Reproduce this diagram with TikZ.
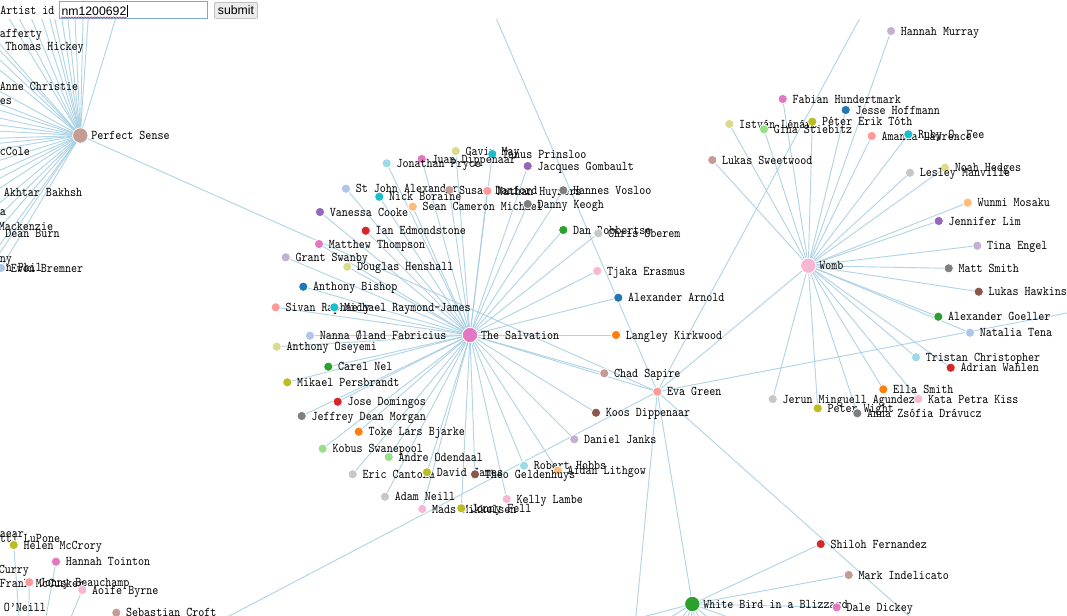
\documentclass[tikz,border=0pt]{standalone}
\usepackage{fontspec}
\newfontfamily\lblfont[FakeStretch=0.86]{lmmono10-regular.otf}
\newfontfamily\formfont{Liberation Sans}
\usetikzlibrary{backgrounds,decorations.pathmorphing}

\definecolor{cblue}{HTML}{1F77B4}
\definecolor{cblueL}{HTML}{AEC7E8}
\definecolor{corange}{HTML}{FF7F0E}
\definecolor{corangeL}{HTML}{FFBB78}
\definecolor{cgreen}{HTML}{2CA02C}
\definecolor{cgreenL}{HTML}{98DF8A}
\definecolor{cred}{HTML}{D62728}
\definecolor{credL}{HTML}{FF9896}
\definecolor{cpurple}{HTML}{9467BD}
\definecolor{cpurpleL}{HTML}{C5B0D5}
\definecolor{cbrown}{HTML}{8C564B}
\definecolor{cbrownL}{HTML}{C49C94}
\definecolor{cpink}{HTML}{E377C2}
\definecolor{cpinkL}{HTML}{F7B6D2}
\definecolor{cgrey}{HTML}{7F7F7F}
\definecolor{cgreyL}{HTML}{C7C7C7}
\definecolor{colive}{HTML}{BCBD22}
\definecolor{coliveL}{HTML}{DBDB8D}
\definecolor{ccyan}{HTML}{17BECF}
\definecolor{ccyanL}{HTML}{9EDAE5}
\definecolor{linkblue}{HTML}{9ECAE1}
\definecolor{boxblue}{HTML}{7EA6E0}

\begin{document}
\begin{tikzpicture}[x=0.75pt, y=-0.75pt, label distance=3.7pt,
  actor/.style = {circle, draw=white, line width=0.6pt, inner sep=0pt, outer sep=0pt, minimum size=7pt},
  film/.style = {actor, minimum size=11.5pt},
  lbl/.style = {font=\lblfont, inner sep=0pt, anchor=base west, yshift=-3pt},
  flbl/.style = {lbl, xshift=-1.4pt},
  link/.style = {draw=linkblue, line width=0.7pt, draw opacity=0.8},
  idbox/.style = {draw=boxblue, line width=0.75pt, minimum width=111pt, minimum height=12.5pt, inner sep=0pt},
  submitbtn/.style = {draw=gray!70, fill=gray!15, rounded corners=1.5pt, minimum width=32.5pt, minimum height=12pt, inner sep=0pt, font=\formfont\fontsize{9.2}{11}\selectfont}]
\useasboundingbox (0,0) rectangle (1067,615);
\clip (0,0) rectangle (1067,615);

% form on top
\node[lbl] (artistid) at (0,10) {Artist id};
\node[idbox] (idbox) at (133.8,10) {};
\node[anchor=base west, inner sep=0pt, font=\formfont\fontsize{9.2}{11}\selectfont] (idtext) at ([xshift=1.5pt, yshift=-4pt]idbox.west) {nm1200692};
\draw[line width=0.5pt] ([xshift=0.8pt, yshift=-1pt]idtext.base east) -- ++(0,-12);
\draw[red, line width=0.4pt, decorate, decoration={snake, amplitude=0.45pt, segment length=2.4pt}] ([yshift=-1.6pt]idtext.base west) -- ([yshift=-1.6pt]idtext.base east);
\node[submitbtn] (submit) at (236,10.3) {submit};

% films
\node[film, fill=cbrownL, label={[flbl]right:Perfect Sense}] (ps) at (80.3,135.5) {};
\node[film, fill=cpink, label={[flbl]right:The Salvation}] (salv) at (470,335) {};
\node[film, fill=cpinkL, label={[flbl]right:Womb}] (womb) at (808.3,265.7) {};
\node[film, fill=cgreen, label={[flbl]right:White Bird in a Blizzard}] (wbird) at (692.3,604) {};
\node[actor, fill=credL, label={[lbl]right:Eva Green}] (eva) at (657.3,391.7) {};

% The Salvation
\node[actor, fill=coliveL, label={[lbl]right:Gavin May}] (gavin) at (455.7,151) {};
\node[actor, fill=ccyan, label={[lbl]right:Tanus Prinsloo}] (tanus) at (492.3,154) {};
\node[actor, fill=cpink, label={[lbl]right:Juan Dippenaar}] (juan) at (421.7,159) {};
\node[actor, fill=ccyanL, label={[lbl]right:Jonathan Pryce}] (pryce) at (386.7,163.3) {};
\node[actor, fill=cpurple, label={[lbl]right:Jacques Gombault}] (gombault) at (527.7,166) {};
\node[actor, fill=cblueL, label={[lbl]right:St John Alexander}] (stjohn) at (346,188.7) {};
\node[actor, fill=cbrownL, label={[lbl]right:Susan Danford}] (danford) at (449.3,190) {};
\node[actor, fill=credL, label={[lbl]right:Nathan Huyzers}] (huyzers) at (487.3,191) {};
\node[actor, fill=cgrey, label={[lbl]right:Hannes Vosloo}] (vosloo) at (563.3,190.3) {};
\node[actor, fill=ccyan, label={[lbl]right:Nick Boraine}] (boraine) at (379.3,196.7) {};
\node[actor, fill=corangeL, label={[lbl]right:Sean Cameron Michael}] (seanm) at (412.7,206.7) {};
\node[actor, fill=cgrey, label={[lbl]right:Danny Keogh}] (keogh) at (527.7,204) {};
\node[actor, fill=cpurple, label={[lbl]right:Vanessa Cooke}] (cooke) at (320,212) {};
\node[actor, fill=cred, label={[lbl]right:Ian Edmondstone}] (edmond) at (365.7,230.7) {};
\node[actor, fill=cgreen, label={[lbl]right:Dan Robbertse}] (robbertse) at (563.3,230) {};
\node[actor, fill=cgreyL, label={[lbl]right:Chris Oberem}] (oberem) at (598.3,233.3) {};
\node[actor, fill=cpink, label={[lbl]right:Matthew Thompson}] (thompson) at (319,244) {};
\node[actor, fill=cpurpleL, label={[lbl]right:Grant Swanby}] (swanby) at (285.7,257.3) {};
\node[actor, fill=coliveL, label={[lbl]right:Douglas Henshall}] (henshall) at (347.3,266.7) {};
\node[actor, fill=cblue, label={[lbl]right:Anthony Bishop}] (bishop) at (303.3,286.7) {};
\node[actor, fill=cpinkL, label={[lbl]right:Tjaka Erasmus}] (erasmus) at (597.3,271) {};
\node[actor, fill=cblue, label={[lbl]right:Alexander Arnold}] (arnold) at (618.3,297.7) {};
\node[actor, fill=credL, label={[lbl]right:Sivan Raphaely}] (sivan) at (275.7,307.3) {};
\node[actor, fill=ccyan, label={[lbl]right:Michael Raymond-James}] (raymond) at (334.3,307.3) {};
\node[actor, fill=cblueL, label={[lbl]right:Nanna Øland Fabricius}] (nanna) at (310,335.7) {};
\node[actor, fill=corange, label={[lbl]right:Langley Kirkwood}] (kirkwood) at (616,335) {};
\node[actor, fill=coliveL, label={[lbl]right:Anthony Oseyemi}] (oseyemi) at (276.7,346.7) {};
\node[actor, fill=cgreen, label={[lbl]right:Carel Nel}] (nel) at (328.3,366.7) {};
\node[actor, fill=colive, label={[lbl]right:Mikael Persbrandt}] (persbrandt) at (287.3,382.3) {};
\node[actor, fill=cbrownL, label={[lbl]right:Chad Sapire}] (sapire) at (604.3,373.3) {};
\node[actor, fill=cred, label={[lbl]right:Jose Domingos}] (domingos) at (337.7,401.7) {};
\node[actor, fill=cgrey, label={[lbl]right:Jeffrey Dean Morgan}] (morgan) at (301.7,416) {};
\node[actor, fill=cbrown, label={[lbl]right:Koos Dippenaar}] (koos) at (596,412.7) {};
\node[actor, fill=corange, label={[lbl]right:Toke Lars Bjarke}] (bjarke) at (358.7,431.7) {};
\node[actor, fill=cpurpleL, label={[lbl]right:Daniel Janks}] (janks) at (574.3,439.3) {};
\node[actor, fill=cgreenL, label={[lbl]right:Kobus Swanepool}] (swanepool) at (322.7,448.7) {};
\node[actor, fill=cgreenL, label={[lbl]right:Andre Odendaal}] (odendaal) at (388.7,457) {};
\node[actor, fill=ccyanL, label={[lbl]right:Robert Hobbs}] (hobbs) at (524,465.7) {};
\node[actor, fill=corangeL, label={[lbl]right:Aidan Lithgow}] (lithgow) at (557.7,470.7) {};
\node[actor, fill=cgreyL, label={[lbl]right:Eric Cantona}] (cantona) at (352.7,474.3) {};
\node[actor, fill=colive, label={[lbl]right:David James}] (davidj) at (427,472.3) {};
\node[actor, fill=cbrown, label={[lbl]right:Theo Geldenhuys}] (theo) at (475,474.3) {};
\node[actor, fill=cgreyL, label={[lbl]right:Adam Neill}] (neill) at (385,496.7) {};
\node[actor, fill=cpinkL, label={[lbl]right:Kelly Lambe}] (lambe) at (506.7,499) {};
\node[actor, fill=cpinkL, label={[lbl]right:Mads Mikkelsen}] (mads) at (422.3,509) {};
\node[actor, fill=colive, label={[lbl]right:Jonny Fell}] (fell) at (461.3,508.3) {};

% Womb
\node[actor, fill=cpurpleL, label={[lbl]right:Hannah Murray}] (murray) at (891,31) {};
\node[actor, fill=cpink, label={[lbl]right:Fabian Hundertmark}] (fabian) at (782.7,99) {};
\node[actor, fill=cblue, label={[lbl]right:Jesse Hoffmann}] (hoffmann) at (845.7,110) {};
\node[actor, fill=coliveL, label={[lbl]right:István Lénárt}] (lenart) at (729.3,124) {};
\node[actor, fill=colive, label={[lbl]right:Péter Erik Tóth}] (toth) at (812.3,121.7) {};
\node[actor, fill=cgreenL, label={[lbl]right:Gina Stiebitz}] (stiebitz) at (764,129.3) {};
\node[actor, fill=credL, label={[lbl]right:Amanda Lawrence}] (lawrence) at (871.7,136) {};
\node[actor, fill=ccyan, label={[lbl]right:Ruby O. Fee}] (fee) at (908.3,134.3) {};
\node[actor, fill=cbrownL, label={[lbl]right:Lukas Sweetwood}] (sweetwood) at (712.3,160) {};
\node[actor, fill=coliveL, label={[lbl]right:Noah Hedges}] (hedges) at (945,167.7) {};
\node[actor, fill=cgreyL, label={[lbl]right:Lesley Manville}] (manville) at (910,172.7) {};
\node[actor, fill=corangeL, label={[lbl]right:Wunmi Mosaku}] (mosaku) at (967.7,202.7) {};
\node[actor, fill=cpurple, label={[lbl]right:Jennifer Lim}] (lim) at (938.7,221) {};
\node[actor, fill=cpurpleL, label={[lbl]right:Tina Engel}] (engel) at (977.3,245.7) {};
\node[actor, fill=cgrey, label={[lbl]right:Matt Smith}] (msmith) at (948.7,268.3) {};
\node[actor, fill=cbrown, label={[lbl]right:Lukas Hawkins}] (hawkins) at (978.7,291.7) {};
\node[actor, fill=cgreen, label={[lbl]right:Alexander Goeller}] (goeller) at (938.3,316.7) {};
\node[actor, fill=cblueL, label={[lbl]right:Natalia Tena}] (tena) at (970,332.7) {};
\node[actor, fill=ccyanL, label={[lbl]right:Tristan Christopher}] (tristan) at (916,357.3) {};
\node[actor, fill=cred, label={[lbl]right:Adrian Wahlen}] (wahlen) at (950.7,367.7) {};
\node[actor, fill=corange, label={[lbl]right:Ella Smith}] (esmith) at (883.3,389.3) {};
\node[actor, fill=cpinkL, label={[lbl]right:Kata Petra Kiss}] (kiss) at (918.3,399) {};
\node[actor, fill=cgreyL, label={[lbl]right:Jerun Minguell Agundez}] (agundez) at (772.7,399) {};
\node[actor, fill=colive, label={[lbl]right:Peter Wight}] (wight) at (817.7,408.3) {};
\node[actor, fill=cgrey, label={[lbl]right:Anna Zsófia Drávucz}] (dravucz) at (857.3,413.3) {};

% White Bird in a Blizzard
\node[actor, fill=cred, label={[lbl]right:Shiloh Fernandez}] (shiloh) at (820.7,544) {};
\node[actor, fill=cbrownL, label={[lbl]right:Mark Indelicato}] (indelicato) at (848.7,575) {};
\node[actor, fill=cpink, label={[lbl]right:Dale Dickey}] (dickey) at (836.7,607.3) {};

% bottom left
\node[actor, fill=cgrey, label={[lbl]right:aear}] (aear) at (-10,533) {};
\node[actor, fill=cgrey, label={[lbl]right:tti LuPone}] (lupone) at (-10,538.5) {};
\node[actor, fill=colive, label={[lbl]right:Helen McCrory}] (helen) at (13.7,545) {};
\node[actor, fill=cpink, label={[lbl]right:Hannah Tointon}] (tointon) at (56,561.7) {};
\node[actor, fill=cgrey, label={[lbl]right:Curry}] (curry) at (-11,569) {};
\node[actor, fill=cgrey, label={[lbl]right:Frank McCusker}] (mccusker) at (-10,583) {};
\node[actor, fill=credL, label={[lbl]right:Jonny Beauchamp}] (jonny) at (29.3,582.3) {};
\node[actor, fill=cpinkL, label={[lbl]right:Aoife Byrne}] (aoife) at (82.3,590) {};
\node[actor, fill=cgrey, label={[lbl]right:O’Neill}] (oneill) at (-6,607) {};
\node[actor, fill=cbrownL, label={[lbl]right:Sebastian Croft}] (croft) at (116.3,612.7) {};

% Perfect Sense, cut at the left edge
\node[actor, fill=cgrey, label={[lbl]right:afferty}] (lafferty) at (-10,33) {};
\node[actor, fill=cgrey, label={[lbl]right:Thomas Hickey}] (hickey) at (-4.5,46) {};
\node[actor, fill=cgrey, label={[lbl]right:Anne Christie}] (christie) at (-10,86) {};
\node[actor, fill=cgrey, label={[lbl]right:es}] (pses) at (-10,100) {};
\node[actor, fill=cgrey, label={[lbl]right:cCole}] (mccole) at (-10,151) {};
\node[actor, fill=cgrey, label={[lbl]right:Akhtar Bakhsh}] (bakhsh) at (-6,192) {};
\node[actor, fill=cgrey, label={[lbl]right:a}] (psa) at (-10,211) {};
\node[actor, fill=cgrey, label={[lbl]right:Mackenzie}] (mackenzie) at (-11,226) {};
\node[actor, fill=cgrey, label={[lbl]right:Dean Burn}] (burn) at (-4.5,233) {};
\node[actor, fill=cgrey, label={[lbl]right:ny}] (psny) at (-10,258) {};
\node[actor, fill=cgrey, label={[lbl]right:en Phil}] (phil) at (-10,267) {};
\node[actor, fill=cblueL, label={[lbl]right:Ewen Bremner}] (bremner) at (1,268) {};

% ends off the picture
\foreach \x [count=\i] in {-14.4,-0.9,15.3,28.8,39.6,46.3,55.7,63.8,73.3,84,90.8,127.2}
  \coordinate (pstop\i) at (\x,-20);
\foreach \y [count=\i] in {22.6,37.6,97.5,109.5,120,129,139.5,147,172.5,187.5,199.5}
  \coordinate (psleft\i) at (-40,\y);
\foreach \x/\y [count=\i] in {600/628,625/645,650/660,670/665,688/668,703/668,722/665,750/655,790/640}
  \coordinate (wbx\i) at (\x,\y);
\coordinate (evatop1) at (479.6,-20);
\coordinate (evatop2) at (880.6,-20);
\coordinate (evaright) at (1150,297);
\coordinate (evadown) at (628,700);
\coordinate (evabr) at (1003,700);
\coordinate (pennyhub) at (27,722);

\begin{scope}[on background layer]
  \fill[white] (0,0) rectangle (1067,615);
  \clip (0,19) rectangle (1067,615);
  \foreach \n in {gavin,tanus,juan,pryce,gombault,stjohn,danford,huyzers,vosloo,boraine,seanm,keogh,cooke,edmond,robbertse,oberem,thompson,swanby,henshall,bishop,erasmus,arnold,sivan,raymond,nanna,kirkwood,oseyemi,nel,persbrandt,sapire,eva,domingos,morgan,koos,bjarke,janks,swanepool,odendaal,hobbs,lithgow,cantona,davidj,theo,neill,lambe,mads,fell}
    \draw[link] (salv) -- (\n);
  \foreach \n in {murray,fabian,hoffmann,lenart,toth,stiebitz,lawrence,fee,sweetwood,hedges,manville,mosaku,lim,engel,msmith,hawkins,goeller,tena,tristan,wahlen,esmith,kiss,agundez,wight,dravucz,eva}
    \draw[link] (womb) -- (\n);
  \foreach \n in {shiloh,indelicato,dickey,eva,wbx1,wbx2,wbx3,wbx4,wbx5,wbx6,wbx7,wbx8,wbx9}
    \draw[link] (wbird) -- (\n);
  \foreach \n in {eva,lafferty,hickey,christie,pses,mccole,bakhsh,psa,mackenzie,burn,psny,phil,bremner,pstop1,pstop2,pstop3,pstop4,pstop5,pstop6,pstop7,pstop8,pstop9,pstop10,pstop11,pstop12,psleft1,psleft2,psleft3,psleft4,psleft5,psleft6,psleft7,psleft8,psleft9,psleft10,psleft11}
    \draw[link] (ps) -- (\n);
  \foreach \n in {evatop1,evatop2,evaright,evadown,evabr,pennyhub}
    \draw[link] (eva) -- (\n);
  \foreach \n in {helen,tointon,jonny,aoife,croft}
    \draw[link] (pennyhub) -- (\n);
\end{scope}
\end{tikzpicture}
\end{document}
